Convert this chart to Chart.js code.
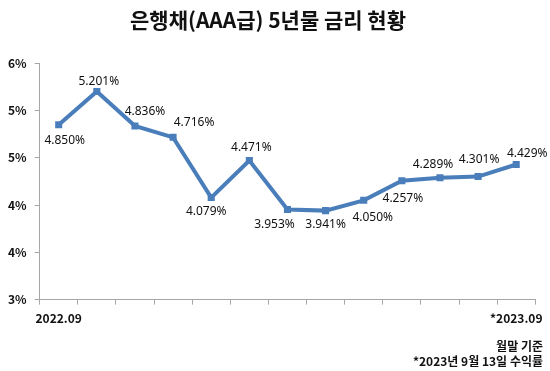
<!DOCTYPE html>
<html>
<head>
<meta charset="utf-8">
<script src="https://cdn.jsdelivr.net/npm/chart.js@4/dist/chart.umd.min.js"></script>
<style>
  html, body { margin: 0; padding: 0; background: #fff; }
  #wrap { width: 550px; height: 371px; }
</style>
</head>
<body>
<div id="wrap"><canvas id="rates"></canvas></div>
<script>
var labels = ["2022.09", "", "", "", "", "", "", "", "", "", "", "", "*2023.09"],
    rates = [4.850, 5.201, 4.836, 4.716, 4.079, 4.471, 3.953, 3.941, 4.050, 4.257, 4.289, 4.301, 4.429],
    yMin = 3, yMax = 5.5, yStep = 0.5,
    notes = ["월말 기준", "*2023년 9월 13일 수익률"];

// label offsets from each point (px)
var labelOffsets = [[6, 16], [2, -10], [10, -14], [21, -15], [-5, 14], [2, -13], [-13, 15],
                    [0, 14], [9, 17], [1, 18], [-7, -13], [1, -17], [11, -11]];

var gray = "#a6a6a6",
    blue = "#4a7ebb",
    krFont = "'Noto Sans CJK KR', 'Noto Sans', sans-serif";

var valueLabels = {
    id: "valueLabels",
    afterDatasetsDraw: function (chart) {
        var ctx = chart.ctx,
            meta = chart.getDatasetMeta(0);
        ctx.save();
        ctx.font = "12px 'Noto Sans', sans-serif";
        ctx.fillStyle = "#111";
        ctx.textAlign = "center";
        ctx.textBaseline = "middle";
        meta.data.forEach(function (pt, i) {
            var off = labelOffsets[i];
            ctx.fillText(rates[i].toFixed(3) + "%", pt.x + off[0], pt.y + off[1]);
        });
        // footnotes, bottom right
        ctx.font = "bold 12px " + krFont;
        ctx.textAlign = "right";
        ctx.fillText(notes[0], chart.width - 7, chart.height - 25);
        ctx.fillText(notes[1], chart.width - 7, chart.height - 10);
        ctx.restore();
    }
};

function drawRates() {
    var ctx = document.getElementById("rates");
    new Chart(ctx, {
        type: "line",
        data: {
            labels: labels,
            datasets: [{
                data: rates,
                borderColor: blue,
                backgroundColor: blue,
                borderWidth: 4,
                tension: 0,
                pointStyle: "rect",
                pointRadius: 5,
                pointBorderWidth: 0,
                pointBackgroundColor: blue
            }]
        },
        options: {
            responsive: true,
            maintainAspectRatio: false,
            animation: false,
            layout: { padding: { left: 0, right: 14, top: 0, bottom: 38 } },
            plugins: {
                legend: { display: false },
                tooltip: { enabled: false },
                title: {
                    display: true,
                    text: "은행채(AAA급) 5년물 금리 현황",
                    color: "#111",
                    font: { family: krFont, size: 21, weight: "bold" },
                    padding: { top: 7, bottom: 31 }
                }
            },
            scales: {
                x: {
                    offset: true,
                    grid: { display: true, drawOnChartArea: false, drawTicks: true, tickLength: 5, color: gray, offset: true },
                    border: { color: gray },
                    ticks: {
                        autoSkip: false,
                        maxRotation: 0,
                        padding: 7,
                        color: "#111",
                        font: { family: krFont, size: 12, weight: "bold" }
                    }
                },
                y: {
                    min: yMin,
                    max: yMax,
                    grid: { display: true, drawOnChartArea: false, drawTicks: true, tickLength: 5, color: gray },
                    border: { color: gray },
                    ticks: {
                        stepSize: yStep,
                        padding: 8,
                        color: "#111",
                        font: { family: krFont, size: 12, weight: "bold" },
                        callback: function (v) { return Math.round(v) + "%"; }
                    }
                }
            }
        },
        plugins: [valueLabels]
    });
}

window.onload = function () {
    drawRates();
};
</script>
</body>
</html>
